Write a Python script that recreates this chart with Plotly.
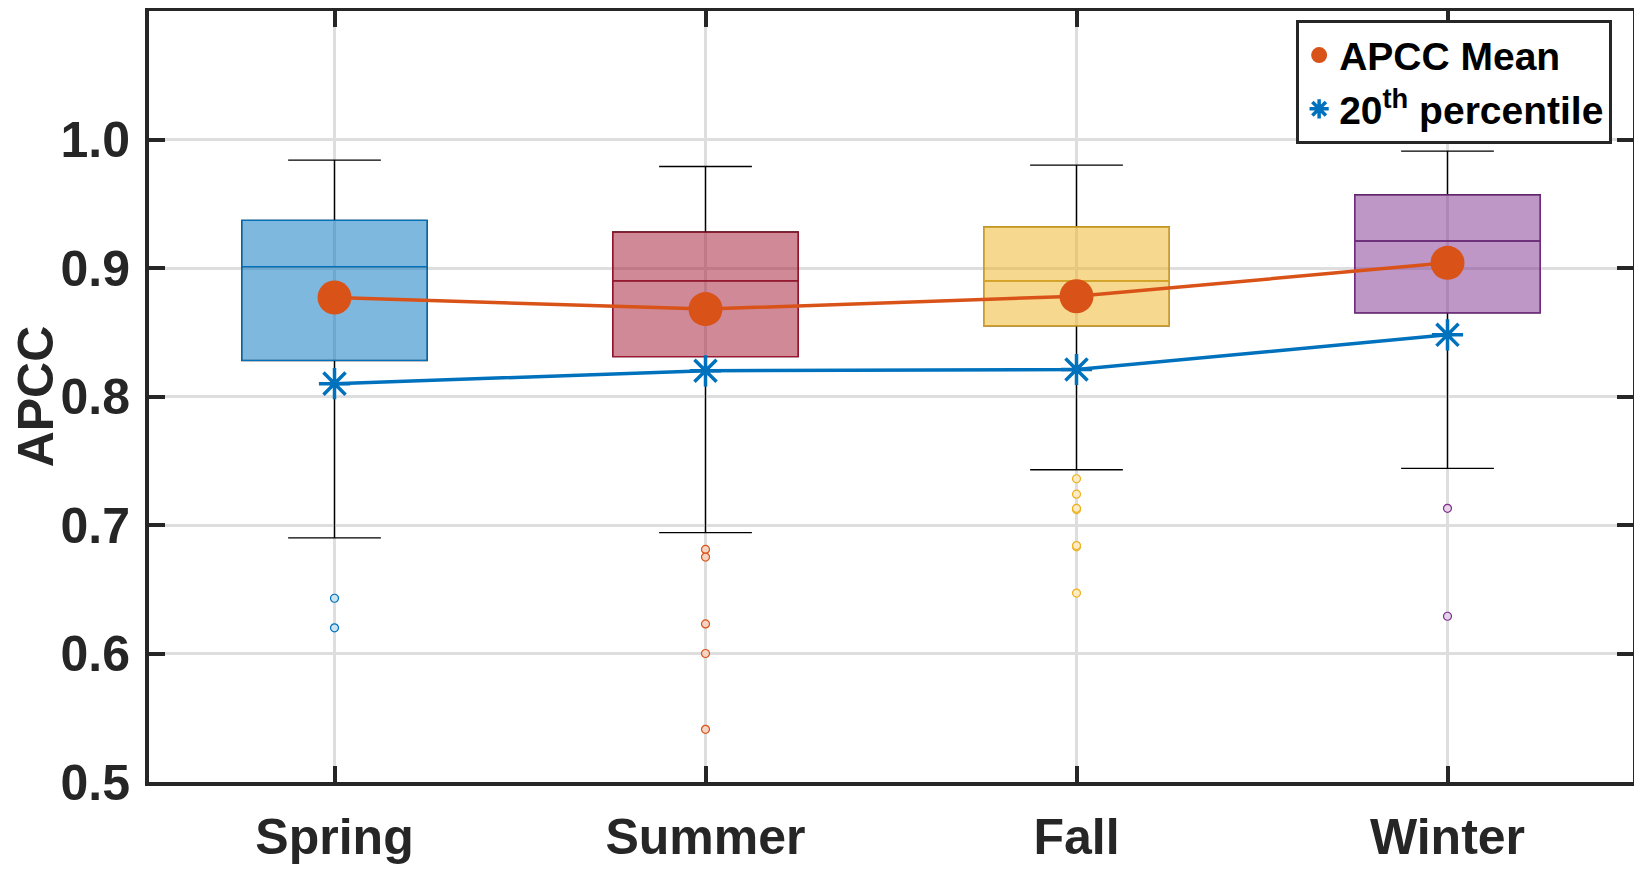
import plotly.graph_objects as go

# data
seasons = ['Spring', 'Summer', 'Fall', 'Winter']
xpos = [1, 2, 3, 4]
q1 = [0.828, 0.831, 0.855, 0.865]
median = [0.901, 0.890, 0.890, 0.921]
q3 = [0.937, 0.928, 0.932, 0.957]
lower_whisker = [0.690, 0.694, 0.743, 0.744]
upper_whisker = [0.984, 0.979, 0.980, 0.991]
outliers = [
    [0.643, 0.620],
    [0.681, 0.675, 0.623, 0.600, 0.541],
    [0.736, 0.724, 0.712, 0.713, 0.683, 0.684, 0.647],
    [0.713, 0.629],
]
apcc_mean = [0.877, 0.868, 0.878, 0.904]
pct20 = [0.810, 0.820, 0.821, 0.848]

# styles
edge_cols = ['#0072BD', '#A2142F', '#EDB120', '#7E2F8E']
fill_cols = ['rgba(0,114,189,0.5)', 'rgba(162,20,47,0.5)', 'rgba(237,177,32,0.5)', 'rgba(126,47,142,0.5)']
out_edge = ['#0072BD', '#D95319', '#EDB120', '#7E2F8E']
out_fill = ['#CCE3F2', '#F6D4C4', '#FBEBC6', '#E5D3E8']
FONT = 'Liberation Sans, Arial, sans-serif'
AX = '#262626'

fig = go.Figure()

for i, s in enumerate(seasons):
    # black whiskers (box outline hidden under coloured box)
    fig.add_trace(go.Box(
        x=[xpos[i]], q1=[q1[i]], median=[median[i]], q3=[q3[i]],
        lowerfence=[lower_whisker[i]], upperfence=[upper_whisker[i]],
        width=0.5, whiskerwidth=0.5, boxpoints=False,
        line=dict(color='black', width=1.3), fillcolor='rgba(0,0,0,0)',
        showlegend=False, hoverinfo='skip'))
    # coloured box
    fig.add_trace(go.Box(
        x=[xpos[i]], q1=[q1[i]], median=[median[i]], q3=[q3[i]],
        lowerfence=[q1[i]], upperfence=[q3[i]],
        width=0.5, whiskerwidth=0, boxpoints=False,
        line=dict(color=edge_cols[i], width=1.2), fillcolor=fill_cols[i],
        showlegend=False, name=s))
    # outliers
    fig.add_trace(go.Scatter(
        x=[xpos[i]] * len(outliers[i]), y=outliers[i], mode='markers',
        marker=dict(symbol='circle', size=8, color=out_fill[i],
                    line=dict(color=out_edge[i], width=1.2)),
        showlegend=False))

fig.add_trace(go.Scatter(
    x=xpos, y=apcc_mean, mode='lines+markers', name='APCC Mean',
    line=dict(color='#D95319', width=3.5),
    marker=dict(symbol='circle', size=34, color='#D95319'),
    showlegend=False))
fig.add_trace(go.Scatter(
    x=xpos, y=pct20, mode='lines+markers', name='20<sup>th</sup> percentile',
    line=dict(color='#0072BD', width=3.5),
    marker=dict(symbol='asterisk-open', size=26, color='#0072BD',
                line=dict(color='#0072BD', width=3.5)),
    showlegend=False))

# legend entries
fig.add_trace(go.Scatter(
    x=[None], y=[None], mode='markers', name='APCC Mean',
    marker=dict(symbol='circle', size=30, color='#D95319')))
fig.add_trace(go.Scatter(
    x=[None], y=[None], mode='markers', name='20<sup>th</sup> percentile',
    marker=dict(symbol='asterisk-open', size=26, color='#0072BD',
                line=dict(color='#0072BD', width=3.5))))

# page body has an 8px margin, so the figure is a bit smaller than the window
fig.update_layout(
    width=1634, height=861,
    template='none',
    paper_bgcolor='white', plot_bgcolor='white',
    margin=dict(l=141, r=9, t=3, b=87),
    boxmode='overlay',
    font=dict(family=FONT, color=AX),
    legend=dict(
        x=0.773, y=0.988, xanchor='left', yanchor='top',
        bgcolor='white', bordercolor=AX, borderwidth=3,
        font=dict(family=FONT, size=39, color='black', weight='bold'),
        itemsizing='trace', tracegroupgap=0),
    showlegend=True,
)

fig.update_xaxes(
    range=[0.5, 4.5], tickmode='array', tickvals=xpos, ticktext=seasons,
    tickfont=dict(size=50, weight='bold', color=AX), ticklabelstandoff=8,
    showgrid=True, gridcolor='#DEDEDE', gridwidth=3,
    showline=True, linecolor=AX, linewidth=4, mirror='allticks',
    ticks='inside', ticklen=16, tickwidth=4, tickcolor=AX,
    zeroline=False, automargin=False)

fig.update_yaxes(
    range=[0.5, 1.1], tickmode='array', tickvals=[0.5, 0.6, 0.7, 0.8, 0.9, 1.0],
    tickformat='.1f',
    tickfont=dict(size=50, weight='bold', color=AX), ticklabelstandoff=5,
    title=dict(text='APCC', font=dict(size=50, weight='bold', color=AX), standoff=14),
    showgrid=True, gridcolor='#DEDEDE', gridwidth=3,
    showline=True, linecolor=AX, linewidth=4, mirror='allticks',
    ticks='inside', ticklen=16, tickwidth=4, tickcolor=AX,
    zeroline=False, automargin=False)

fig.write_html('out.html')
